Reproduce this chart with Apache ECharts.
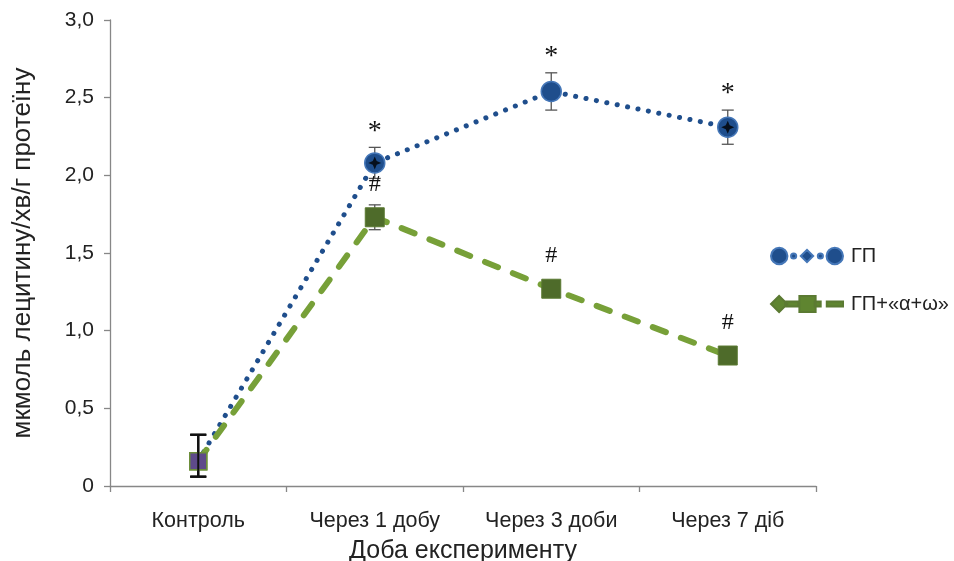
<!DOCTYPE html>
<html>
<head>
<meta charset="utf-8">
<script src="https://cdn.jsdelivr.net/npm/echarts@6/dist/echarts.min.js"></script>
<style>
html,body{margin:0;padding:0;background:#fff;}
#chart{width:954px;height:561px;}
</style>
</head>
<body>
<div id="chart"></div>
<script>
// ---- data ----
const categories = ['Контроль', 'Через 1 добу', 'Через 3 доби', 'Через 7 діб'];
const seriesNames = ['ГП', 'ГП+«α+ω»'];
const gpValues = [0.16, 2.08, 2.54, 2.31];
const gpErrUp = [0.17, 0.10, 0.12, 0.11];
const gpErrDown = [0.10, 0.10, 0.12, 0.11];
const gpAwValues = [0.16, 1.73, 1.27, 0.84];
const gpAwErrUp = [0.17, 0.08, 0.03, 0.0];
const gpAwErrDown = [0.10, 0.08, 0.03, 0.0];
const gpBlackMark = [false, true, false, true];
const gpSig = ['', '*', '*', '*'];
const gpAwSig = ['', '#', '#', '#'];
const yTickValues = [0, 0.5, 1.0, 1.5, 2.0, 2.5, 3.0];
const yTickLabels = ['0', '0,5', '1,0', '1,5', '2,0', '2,5', '3,0'];

// ---- styles ----
const FONT = 'Liberation Sans, Arial, sans-serif';
const BLUE = '#1f4e8c';
const GREEN_LINE = '#77a038';
const GREEN_MARK = '#4e6b2a';
const PURPLE = '#5e4a8a';

const chart = echarts.init(document.getElementById('chart'), null, {renderer: 'canvas'});

function errItem(vals, up, down, kind) {
  return vals.map((v, i) => [i, v, up[i], down[i], kind]);
}

function renderErr(params, api) {
  const i = api.value(0);
  const v = api.value(1);
  const up = api.value(2);
  const down = api.value(3);
  const pTop = api.coord([i, v + up]);
  const pBot = api.coord([i, v - down]);
  const children = [];
  const col = i === 0 ? '#111' : '#555';
  const w = i === 0 ? 2 : 1.3;
  const cap = i === 0 ? 8 : 6;
  if (up + down > 0) {
    children.push({type: 'line', shape: {x1: pTop[0], y1: pTop[1], x2: pBot[0], y2: pBot[1]}, style: {stroke: col, lineWidth: w}});
    children.push({type: 'line', shape: {x1: pTop[0] - cap, y1: pTop[1], x2: pTop[0] + cap, y2: pTop[1]}, style: {stroke: col, lineWidth: w}});
    children.push({type: 'line', shape: {x1: pBot[0] - cap, y1: pBot[1], x2: pBot[0] + cap, y2: pBot[1]}, style: {stroke: col, lineWidth: w}});
  }
  return {type: 'group', children: children};
}

function renderSig(params, api) {
  const i = api.value(0);
  const v = api.value(1);
  const up = api.value(2);
  const kind = api.value(4);
  const text = kind === 'gp' ? gpSig[i] : gpAwSig[i];
  if (!text) return {type: 'group', children: []};
  let x, y;
  if (kind === 'gp') {
    const p = api.coord([i, v + up]);
    x = p[0]; y = p[1] - 16;
  } else {
    const p = api.coord([i, v]);
    x = p[0]; y = p[1] - 33;
  }
  return {
    type: 'text',
    x: x, y: y,
    style: {
      text: text, x: 0, y: 0, align: 'center', verticalAlign: 'middle',
      font: (kind === 'gp' ? '28px' : '24px') + ' "Liberation Serif", "DejaVu Serif", serif',
      fill: '#111'
    }
  };
}

const gpIcon = 'path://M1,9 A8,8 0 1,1 17,9 A8,8 0 1,1 1,9 Z M20.5,9 A2.5,2.5 0 1,1 25.5,9 A2.5,2.5 0 1,1 20.5,9 Z M30,9 L36,3 L42,9 L36,15 Z M46.5,9 A2.5,2.5 0 1,1 51.5,9 A2.5,2.5 0 1,1 46.5,9 Z M55,9 A8,8 0 1,1 71,9 A8,8 0 1,1 55,9 Z';
const gpAwIcon = 'path://M0,9 L8,1 L16,9 L8,17 Z M14,6.5 L27,6.5 L27,11.5 L14,11.5 Z M28,1 L44,1 L44,17 L28,17 Z M43,6.5 L49,6.5 L49,11.5 L43,11.5 Z M55,6.5 L71,6.5 L71,11.5 L55,11.5 Z';

const option = {
  backgroundColor: '#ffffff',
  animation: false,
  grid: {left: 110, right: 138, top: 20, bottom: 75, containLabel: false, outerBoundsMode: 'none'},
  legend: {
    orient: 'vertical',
    left: 765,
    top: 241,
    itemWidth: 72,
    itemHeight: 18,
    itemGap: 28,
    data: [
      {name: seriesNames[0], icon: gpIcon, itemStyle: {color: BLUE}},
      {name: seriesNames[1], icon: gpAwIcon, itemStyle: {color: '#5f8530'}}
    ],
    textStyle: {fontFamily: FONT, fontSize: 20, color: '#222', padding: [0, 0, 0, 3]},
    selectedMode: false
  },
  xAxis: {
    type: 'category',
    data: categories,
    boundaryGap: true,
    name: 'Доба експерименту',
    nameLocation: 'middle',
    nameGap: 53,
    nameTextStyle: {fontFamily: FONT, fontSize: 25, color: '#222'},
    axisLine: {lineStyle: {color: '#878787', width: 1.3}},
    axisTick: {show: true, alignWithLabel: false, length: 6, lineStyle: {color: '#878787', width: 1.3}},
    axisLabel: {fontFamily: FONT, fontSize: 21.5, color: '#222', margin: 24}
  },
  yAxis: {
    type: 'value',
    min: 0, max: 3, interval: 0.5,
    name: 'мкмоль лецитину/хв/г протеїну',
    nameLocation: 'middle',
    nameGap: 74,
    nameRotate: 90,
    nameTextStyle: {fontFamily: FONT, fontSize: 26, color: '#222'},
    axisLine: {show: true, lineStyle: {color: '#878787', width: 1.3}},
    axisTick: {show: true, length: 6, lineStyle: {color: '#878787', width: 1.3}},
    splitLine: {show: false},
    axisLabel: {
      fontFamily: FONT, fontSize: 21, color: '#222', margin: 16,
      formatter: function (val) {
        const idx = yTickValues.findIndex(t => Math.abs(t - val) < 1e-6);
        return idx >= 0 ? yTickLabels[idx] : '';
      }
    }
  },
  series: [
    {
      name: 'errGp', type: 'custom', renderItem: renderErr, z: 1,
      data: errItem(gpValues, gpErrUp, gpErrDown, 'gp'),
      encode: {x: 0, y: 1}, silent: true
    },
    {
      name: 'errGpAw', type: 'custom', renderItem: renderErr, z: 1,
      data: errItem(gpAwValues, gpAwErrUp, gpAwErrDown, 'aw'),
      encode: {x: 0, y: 1}, silent: true
    },
    {
      name: seriesNames[0],
      type: 'line',
      z: 3,
      data: gpValues.map((v, i) => i === 0 ? {
        value: v, symbol: 'rect', symbolSize: 17,
        itemStyle: {color: PURPLE, borderColor: '#6d8f3a', borderWidth: 1.5}
      } : v),
      symbol: 'circle',
      symbolSize: 20,
      itemStyle: {color: BLUE, borderColor: '#4577b8', borderWidth: 1.5},
      lineStyle: {color: BLUE, width: 5, type: [0.1, 10.5], cap: 'round'}
    },
    {
      name: 'gpBlack',
      type: 'scatter',
      z: 4,
      symbol: 'path://M10,0 L13,7 L20,10 L13,13 L10,20 L7,13 L0,10 L7,7 Z',
      symbolSize: 13,
      itemStyle: {color: '#000'},
      data: gpValues.map((v, i) => gpBlackMark[i] ? [i, v] : null).filter(d => d !== null),
      silent: true
    },
    {
      name: seriesNames[1],
      type: 'line',
      z: 5,
      data: gpAwValues.map((v, i) => i === 0 ? {
        value: v, symbol: 'rect', symbolSize: 17,
        itemStyle: {color: PURPLE, borderColor: '#6d8f3a', borderWidth: 1.5}
      } : v),
      symbol: 'rect',
      symbolSize: 19,
      itemStyle: {color: GREEN_MARK, borderColor: '#5b7a32', borderWidth: 1},
      lineStyle: {color: GREEN_LINE, width: 6, type: [14, 16], cap: 'round'}
    },
    {
      name: 'ctrlErr', type: 'custom', renderItem: renderErr, z: 6,
      data: errItem(gpValues, gpErrUp, gpErrDown, 'gp').slice(0, 1),
      encode: {x: 0, y: 1}, silent: true
    },
    {
      name: 'sigGp', type: 'custom', renderItem: renderSig, z: 7,
      data: errItem(gpValues, gpErrUp, gpErrDown, 'gp'),
      encode: {x: 0, y: 1}, silent: true
    },
    {
      name: 'sigGpAw', type: 'custom', renderItem: renderSig, z: 7,
      data: errItem(gpAwValues, gpAwErrUp, gpAwErrDown, 'aw'),
      encode: {x: 0, y: 1}, silent: true
    }
  ]
};
chart.setOption(option);
</script>
</body>
</html>
